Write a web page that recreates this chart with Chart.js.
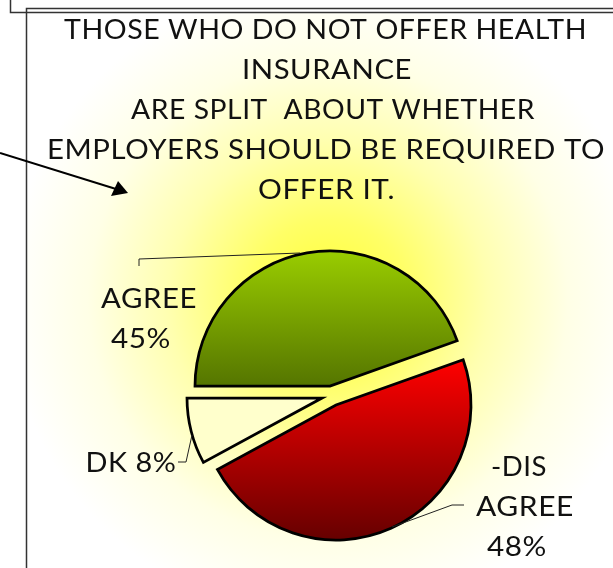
<!DOCTYPE html>
<html>
<head>
<meta charset="utf-8">
<style>
  html,body{margin:0;padding:0;background:#fff;overflow:hidden}
  canvas{display:block}
</style>
<script src="https://cdn.jsdelivr.net/npm/chart.js@4"></script>
</head>
<body>
<canvas id="pie" width="613" height="568"></canvas>
<script>
// data
const sliceNames = ["AGREE", "DIS-AGREE", "DK"];
const sliceValues = [45, 48, 8];
const titleLines = [
  "THOSE WHO DO NOT OFFER HEALTH",
  "INSURANCE",
  "ARE SPLIT  ABOUT WHETHER",
  "EMPLOYERS SHOULD BE REQUIRED TO",
  "OFFER IT."
];
// width and centre of each title line in the original, its font is a stretched one
const titleWidths = [523, 170, 404, 558, 137];
const titleCentres = [325.5, 327, 333, 326, 326.5];

// the slices of the original are pulled apart unevenly, so x/y shift for each
const shiftX = [4, 10, -4];
const shiftY = [-9, 10, 3];

const FONT = "Lato, 'Liberation Sans', sans-serif";

// --- labels with their thin leader lines
const labels = [
  {lines:["AGREE","45%"], x:[149,141], y:[300,340], w:[96,60], lead:[[139,266],[139,259],[300,253]]},
  {lines:["DK 8%"], x:[131], y:[464], w:[91], lead:[[178,462],[186,462],[192,435]]},
  {lines:["-DIS","AGREE","48%"], x:[519,525,517], y:[468,508,548], w:[56,98,60], lead:[[392,527],[452,505],[464,505]]}
];

function polyline(ctx, pts){
  ctx.beginPath();
  pts.forEach((p,i)=> i ? ctx.lineTo(p[0],p[1]) : ctx.moveTo(p[0],p[1]));
  ctx.stroke();
}

// fillText stretched sideways to the given width
function wideText(ctx, text, cx, cy, w){
  ctx.save();
  ctx.letterSpacing = "0.5px";
  const k = w / ctx.measureText(text).width;
  ctx.translate(cx, cy);
  ctx.scale(k, 1);
  ctx.fillText(text, 0, 0);
  ctx.restore();
}

// background glow and the two frames behind it
const backdrop = {
  id:"backdrop",
  beforeDraw(chart){
    const ctx = chart.ctx;
    ctx.save();
    const g = ctx.createRadialGradient(328,300,0,328,300,320);
    g.addColorStop(0,"#ffff33");
    g.addColorStop(0.25,"#ffff66");
    g.addColorStop(0.5,"#ffffb0");
    g.addColorStop(0.75,"#ffffe6");
    g.addColorStop(1,"#ffffff");
    ctx.fillStyle = g;
    ctx.fillRect(27,13,586,555);
    ctx.strokeStyle = "#333";
    ctx.lineWidth = 1.5;
    polyline(ctx,[[10.5,0],[10.5,12.5],[613,12.5]]);
    polyline(ctx,[[26.5,568],[26.5,8.5],[613,8.5]]);
    ctx.restore();
  }
};

// title, leader lines, labels and the arrow on top
const annotations = {
  id:"annotations",
  afterDatasetsUpdate(chart){
    chart.getDatasetMeta(0).data.forEach((arc,i)=>{
      arc.x += shiftX[i];
      arc.y += shiftY[i];
    });
  },
  afterDraw(chart){
    const ctx = chart.ctx;
    ctx.save();
    ctx.strokeStyle = "#222";
    ctx.lineWidth = 1;
    ctx.fillStyle = "#111";
    ctx.font = "26px "+FONT;
    ctx.textAlign = "center";
    ctx.textBaseline = "middle";
    titleLines.forEach((t,i)=>wideText(ctx,t,titleCentres[i],31+i*40,titleWidths[i]));
    labels.forEach(l=>{
      polyline(ctx,l.lead);
      l.lines.forEach((t,i)=>wideText(ctx,t,l.x[i],l.y[i],l.w[i]));
    });
    // arrow from the left edge
    ctx.strokeStyle = "#000";
    ctx.lineWidth = 2;
    polyline(ctx,[[0,153],[116,189]]);
    ctx.fillStyle = "#000";
    ctx.beginPath();
    ctx.moveTo(128,193);
    ctx.lineTo(111,196);
    ctx.lineTo(118,181);
    ctx.closePath();
    ctx.fill();
    ctx.restore();
  }
};

const ctx = document.getElementById("pie").getContext("2d");
function vert(y0,y1,c0,c1){
  const g = ctx.createLinearGradient(0,y0,0,y1);
  g.addColorStop(0,c0);
  g.addColorStop(1,c1);
  return g;
}

new Chart(ctx,{
  type:"pie",
  data:{
    labels:sliceNames,
    datasets:[{
      data:sliceValues,
      backgroundColor:[
        vert(252,386,"#99cc00","#557500"),
        vert(360,540,"#ff0000","#660000"),
        "#ffffcc"
      ],
      borderColor:"#000",
      borderWidth:2.75,
      borderJoinStyle:"miter",
      offset:0
    }]
  },
  plugins:[backdrop,annotations],
  options:{
    responsive:false,
    animation:false,
    rotation:-90,
    radius:135,
    layout:{padding:{left:39,top:232,bottom:10}},
    plugins:{
      legend:{display:false},
      tooltip:{enabled:false},
      title:{display:false}
    }
  }
});
</script>
</body>
</html>
